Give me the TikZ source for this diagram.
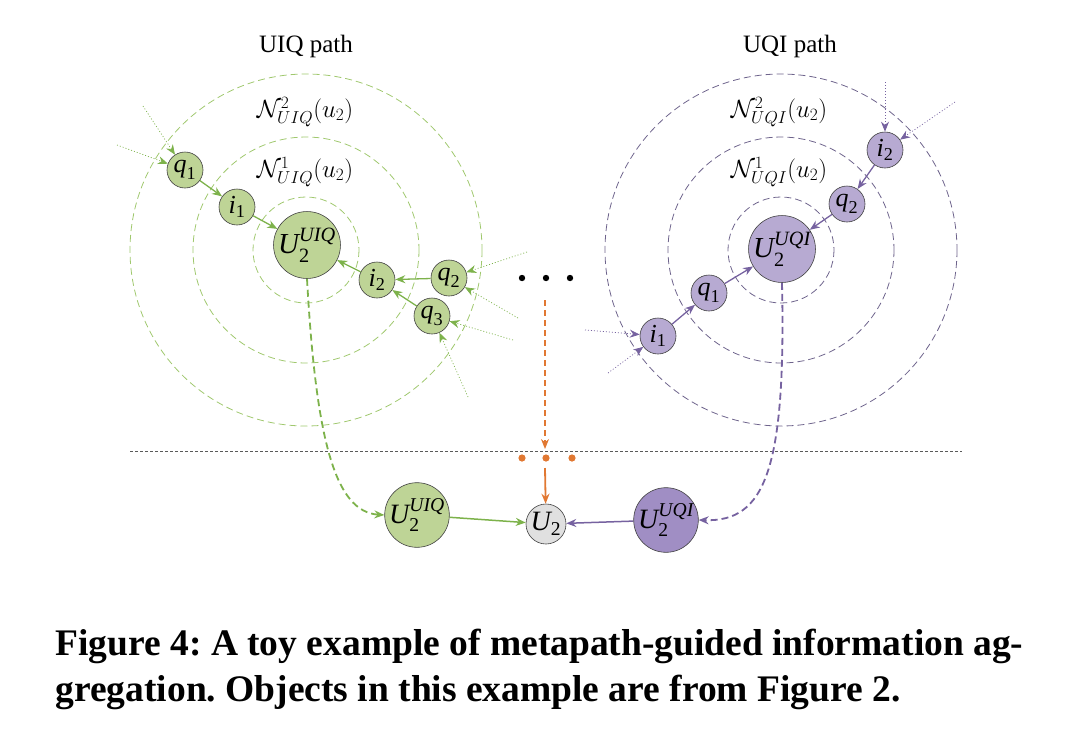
\documentclass[tikz,border=0pt]{standalone}
\usepackage{amsmath}
\usepackage{fontspec}
\setmainfont{Liberation Serif}
\usetikzlibrary{arrows.meta}
\definecolor{gfill}{RGB}{190,212,150}
\definecolor{gline}{RGB}{125,178,75}
\definecolor{gcirc}{RGB}{160,200,110}
\definecolor{pfill}{RGB}{183,170,210}
\definecolor{pfilld}{RGB}{160,142,196}
\definecolor{pline}{RGB}{118,98,160}
\definecolor{pcirc}{RGB}{110,100,140}
\definecolor{ocol}{RGB}{225,120,50}
\definecolor{ufill}{RGB}{224,224,224}
\frenchspacing
\begin{document}
\begin{tikzpicture}[x=1pt,y=-1pt,
  nd/.style={circle,draw=black!75,line width=0.6pt,inner sep=0pt,font=\fontsize{26}{26}\selectfont},
  small/.style={nd,minimum size=36pt},
  big/.style={nd,minimum size=56pt,font=\fontsize{29}{29}\selectfont},
  gn/.style={fill=gfill},
  pn/.style={fill=pfill},
  ring/.style={dash pattern=on 7pt off 4pt,line width=0.8pt},
  tip/.style={-{Stealth[length=10pt,width=8pt]}},
  garr/.style={tip,draw=gline,line width=1.3pt},
  parr/.style={tip,draw=pline,line width=1.3pt},
  gdot/.style={garr,line width=0.7pt,dash pattern=on 1pt off 2pt},
  pdot/.style={parr,line width=0.7pt,dash pattern=on 1pt off 2pt},
  lbl/.style={font=\fontsize{25}{25}\selectfont},
  captxt/.style={anchor=base west,font=\fontsize{37.5}{44}\selectfont\bfseries}
]
\useasboundingbox (0,0) rectangle (1080,740);
% titles
\node[lbl] (t1) at (306,46) {UIQ path};
\node[lbl] (t2) at (790,46) {UQI path};
% rings left
\draw[gcirc,ring] (306,250) circle (53);
\draw[gcirc,ring] (306,250) circle (113);
\draw[gcirc,ring] (306,250) circle (176);
% rings right
\draw[pcirc,ring] (781,250) circle (53);
\draw[pcirc,ring] (781,250) circle (113);
\draw[pcirc,ring] (781,250) circle (176);
% neighbourhood labels
\node[lbl] (n2l) at (305,112) {$\mathcal{N}^2_{UIQ}(u_2)$};
\node[lbl] (n1l) at (305,172) {$\mathcal{N}^1_{UIQ}(u_2)$};
\node[lbl] (n2r) at (779,112) {$\mathcal{N}^2_{UQI}(u_2)$};
\node[lbl] (n1r) at (779,172) {$\mathcal{N}^1_{UQI}(u_2)$};
% left nodes
\node[big,gn] (gU) at (307,245) {$\textit{U}^{\textit{UIQ}}_{\text{2}}$};
\node[small,gn] (gq1) at (185,170) {$\textit{q}_{\text{1}}$};
\node[small,gn] (gi1) at (237,207) {$\textit{i}_{\text{1}}$};
\node[small,gn] (gi2) at (377,280) {$\textit{i}_{\text{2}}$};
\node[small,gn] (gq2) at (449,278) {$\textit{q}_{\text{2}}$};
\node[small,gn] (gq3) at (432,316) {$\textit{q}_{\text{3}}$};
% right nodes
\node[big,pn] (pU) at (782,249) {$\textit{U}^{\textit{UQI}}_{\text{2}}$};
\node[small,pn] (pi2) at (885,150) {$\textit{i}_{\text{2}}$};
\node[small,pn] (pq2) at (847,204) {$\textit{q}_{\text{2}}$};
\node[small,pn] (pq1) at (709,293) {$\textit{q}_{\text{1}}$};
\node[small,pn] (pi1) at (658,336) {$\textit{i}_{\text{1}}$};
% left arrows
\draw[garr] (gq1) -- (gi1);
\draw[garr] (gi1) -- (gU);
\draw[garr] (gi2) -- (gU);
\draw[garr] (gq2) -- (gi2);
\draw[garr] (gq3) -- (gi2);
% right arrows
\draw[parr] (pi2) -- (pq2);
\draw[parr] (pq2) -- (pU);
\draw[parr] (pi1) -- (pq1);
\draw[parr] (pq1) -- (pU);
% dotted incoming (left)
\coordinate (a1) at (143,106);
\coordinate (a2) at (117,145);
\coordinate (a3) at (527,252);
\coordinate (a4) at (518,318);
\coordinate (a5) at (513,340);
\coordinate (a6) at (468,397);
\draw[gdot] (a1) -- (gq1);
\draw[gdot] (a2) -- (gq1);
\draw[gdot] (a3) -- (gq2);
\draw[gdot] (a4) -- (gq2);
\draw[gdot] (a5) -- (gq3);
\draw[gdot] (a6) -- (gq3);
% dotted incoming (right)
\coordinate (b1) at (885,82);
\coordinate (b2) at (955,102);
\coordinate (b3) at (585,330);
\coordinate (b4) at (608,373);
\draw[pdot] (b1) -- (pi2);
\draw[pdot] (b2) -- (pi2);
\draw[pdot] (b3) -- (pi1);
\draw[pdot] (b4) -- (pi1);
% ellipsis dots
\fill[black] (522,278) circle (3.2);
\fill[black] (546,278) circle (3.2);
\fill[black] (570,278) circle (3.2);
% separator line
\coordinate (s1) at (130,451);
\coordinate (s2) at (962,451);
\draw[black!65,line width=0.8pt,dash pattern=on 3pt off 2pt] (s1) -- (s2);
% bottom nodes
\node[nd,minimum size=40pt,fill=ufill,font=\fontsize{28}{28}\selectfont] (U2) at (546,524) {$\textit{U}_{\text{2}}$};
\node[nd,minimum size=52pt,fill=gfill,font=\fontsize{28}{28}\selectfont] (gUb) at (417,515) {$\textit{U}^{\textit{UIQ}}_{\text{2}}$};
\node[nd,minimum size=52pt,fill=pfilld,font=\fontsize{28}{28}\selectfont] (pUb) at (666,520) {$\textit{U}^{\textit{UQI}}_{\text{2}}$};
\draw[garr,line width=1.5pt] (gUb) -- (U2);
\draw[parr,line width=1.5pt] (pUb) -- (U2);
% dashed curves
\draw[garr,line width=1.8pt,dash pattern=on 7pt off 4pt] (gU.south) .. controls (316,440) and (335,512) .. (gUb.west);
\draw[parr,line width=1.8pt,dash pattern=on 7pt off 4pt] (pU.south) .. controls (786,470) and (765,522) .. (pUb.east);
% orange
\coordinate (o1) at (545,300);
\coordinate (o2) at (545,449);
\coordinate (o3) at (545,468);
\draw[tip,draw=ocol,line width=1.8pt,dash pattern=on 6pt off 4pt] (o1) -- (o2);
\fill[ocol] (522,458) circle (3.6);
\fill[ocol] (546,458) circle (3.6);
\fill[ocol] (572,458) circle (3.6);
\draw[tip,draw=ocol,line width=1.8pt] (o3) -- (U2);
% caption
\node[captxt] (c1) at (52,655) {Figure 4: A toy example of metapath-guided information ag-};
\node[captxt] (c2) at (52,701) {gregation. Objects in this example are from Figure 2.};
\end{tikzpicture}
\end{document}
